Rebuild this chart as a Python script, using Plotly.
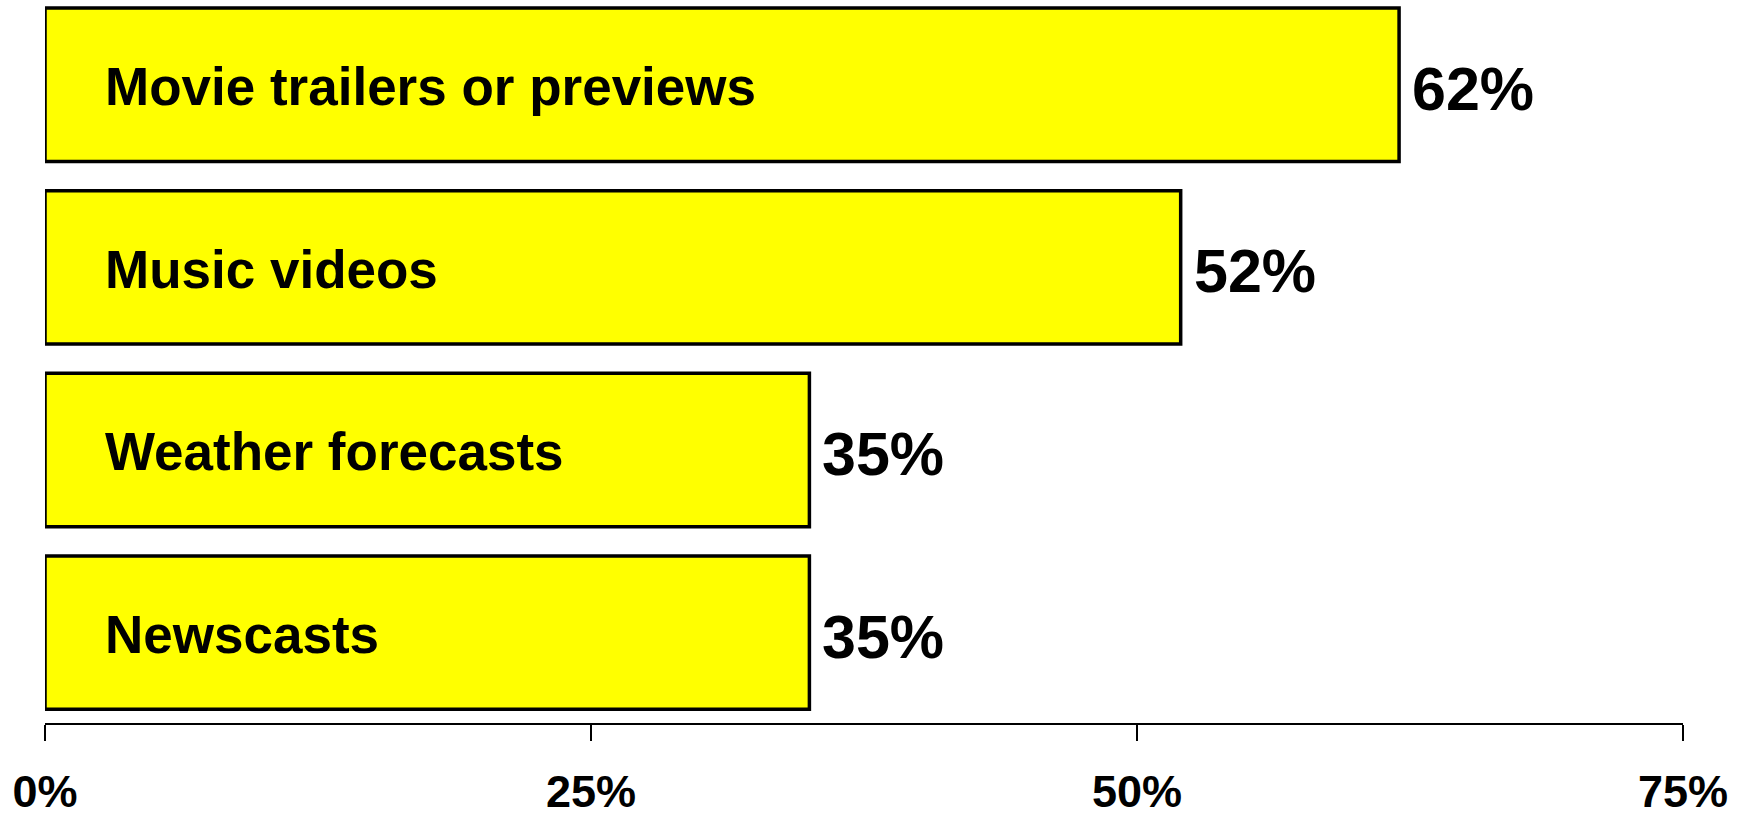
import plotly.graph_objects as go

# Share of respondents who watch each kind of video content
categories = ["Movie trailers or previews", "Music videos", "Weather forecasts", "Newscasts"]
values = [62, 52, 35, 35]
tick_values = [0, 25, 50, 75]
tick_labels = ["0%", "25%", "50%", "75%"]

FONT = "Liberation Sans, Arial, sans-serif"

fig = go.Figure(
    go.Bar(
        y=categories,
        x=values,
        orientation="h",
        marker=dict(color="#FFFF00", line=dict(color="#000000", width=3.5)),
        width=0.84,
        hoverinfo="skip",
    )
)

annotations = []
for cat, val in zip(categories, values):
    # category name inside the bar, left aligned
    annotations.append(dict(
        x=0, y=cat, xref="x", yref="y",
        text=f"<b>{cat}</b>", showarrow=False,
        xanchor="left", yanchor="middle", xshift=58, yshift=-2,
        font=dict(family=FONT, size=53, color="#000000"),
    ))
    # value label just past the bar end
    annotations.append(dict(
        x=val, y=cat, xref="x", yref="y",
        text=f"<b>{val}%</b>", showarrow=False,
        xanchor="left", yanchor="middle", xshift=11, yshift=-4,
        font=dict(family=FONT, size=61, color="#000000"),
    ))

fig.update_layout(
    width=1745, height=817,
    margin=dict(l=45, r=62, t=0, b=91),
    paper_bgcolor="#FFFFFF", plot_bgcolor="#FFFFFF",
    showlegend=False,
    annotations=annotations,
    xaxis=dict(
        range=[0, 75], tickmode="array", tickvals=tick_values, ticktext=tick_labels,
        showgrid=False, zeroline=False,
        showline=True, linecolor="#000000", linewidth=2,
        ticks="outside", ticklen=16, tickwidth=2, tickcolor="#000000",
        ticklabelstandoff=12,
        tickfont=dict(family=FONT, size=45, color="#000000", weight="bold"),
        fixedrange=True,
    ),
    yaxis=dict(
        range=[3.495, -0.464], showticklabels=False, showgrid=False,
        zeroline=False, showline=False, ticks="", fixedrange=True,
    ),
)

fig.write_html("out.html", config={"displayModeBar": False})
